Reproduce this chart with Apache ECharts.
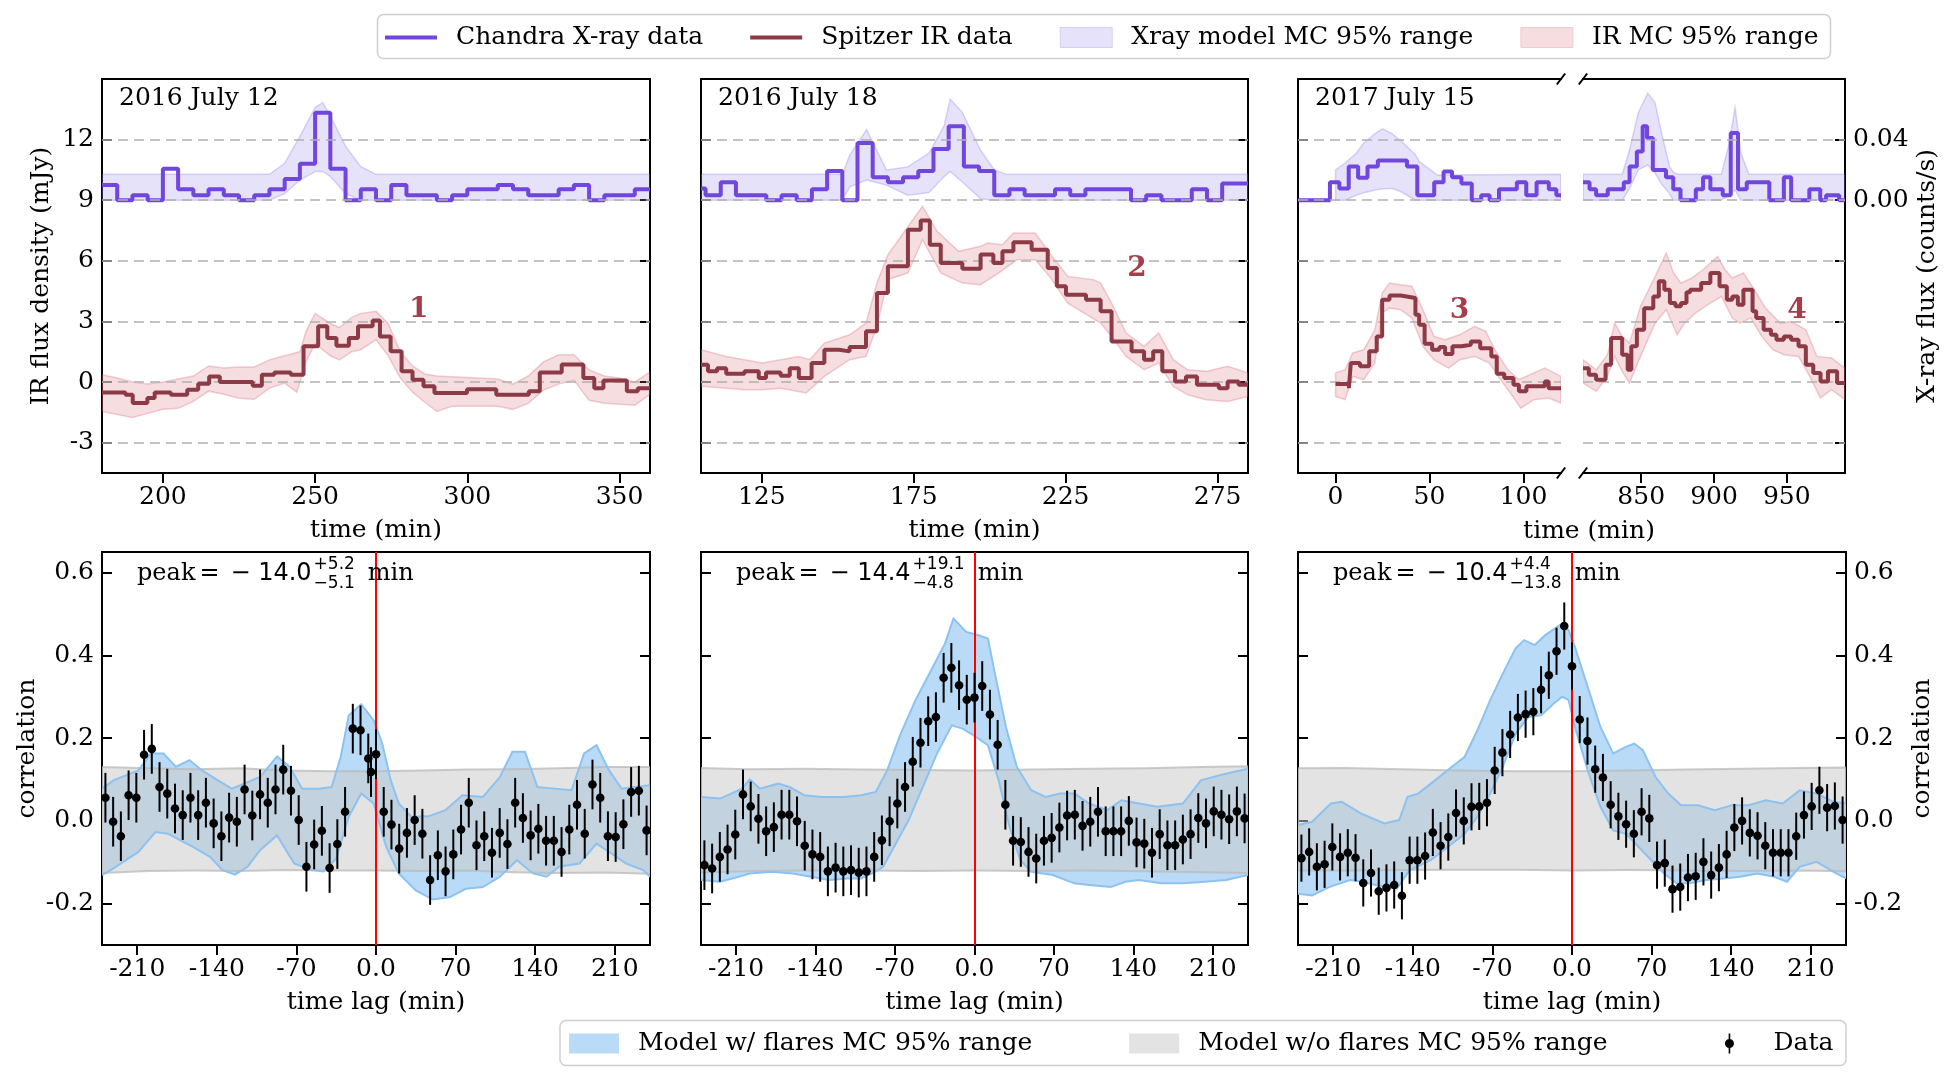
<!DOCTYPE html>
<html><head><meta charset="utf-8">
<script src="https://cdn.jsdelivr.net/npm/echarts@6/dist/echarts.min.js"></script>
<style>html,body{margin:0;padding:0;background:#fff}#c{width:1958px;height:1082px}</style>
</head><body><div id="c"></div>
<script>
// ---------------- DATA ----------------
const PANEL_TITLES = ['2016 July 12', '2016 July 18', '2017 July 15'];
const IR_TICKS = [-3, 0, 3, 6, 9, 12];
const XRAY_LABEL_TICKS = [0, 0.04];
const CORR_TICKS = [-0.2, 0, 0.2, 0.4, 0.6];
const LAG_TICKS = [-210, -140, -70, 0, 70, 140, 210];
const TIME_TICKS = [[200, 250, 300, 350], [125, 175, 225, 275], [0, 50, 100], [850, 900, 950]];
const TIME_RANGES = [[180, 360], [105, 285], [-20, 120], [810, 990]];
const IR_RANGE = [-4.5, 15];
const CORR_RANGE = [-0.3, 0.65];
const LAG_RANGE = [-241, 241];

// X-ray light curves [time (min), counts/s] (bin start)
const XRAY_P1 = [[180,0.010],[185,0],[190,0.0033],[195,0],[200,0.0207],[205,0.0073],[210,0.0033],[215,0.0073],[220,0.0033],[225,0],[230,0.0033],[235,0.0073],[240,0.014],[245,0.024],[250,0.0578],[255,0.0207],[260,0],[265,0.0073],[270,0],[275,0.010],[280,0.0033],[290,0],[295,0.0033],[300,0.0073],[310,0.010],[315,0.0073],[320,0.0033],[330,0.0073],[335,0.010],[340,0],[345,0.0033],[355,0.0073],[360,0.0073]];
const XRAY_P2 = [[105,0.0078],[106.5,0.0033],[111.5,0.0118],[116.5,0.0033],[126.5,0],[131.5,0.0033],[136.5,0],[141.5,0.0073],[146.5,0.0193],[151.5,0],[156.5,0.0378],[161.5,0.0151],[166.5,0.0118],[171.5,0.0151],[176.5,0.0193],[181.5,0.0338],[186.5,0.0489],[191.5,0.0222],[196.5,0.0193],[201.5,0.0033],[206.5,0.0073],[211.5,0.0033],[221.5,0.0073],[226.5,0.0033],[231.5,0.0073],[246.5,0],[251.5,0.0033],[256.5,0],[266.5,0.0073],[271.5,0],[276.5,0.0111],[285,0.0111]];
const XRAY_P3A = [[-20,0],[-3,0.0118],[2,0.0078],[7,0.0222],[12,0.0149],[17,0.0222],[22.5,0.0262],[38,0.0222],[43.5,0.0033],[52.5,0.0118],[57.5,0.0189],[62,0.0151],[67,0.0111],[72.5,0],[77.5,0.0033],[82,0],[87,0.0073],[96.5,0.0118],[101.5,0.0033],[107,0.0118],[113.5,0.0073],[117.5,0.0033],[120,0.0033]];
const XRAY_P3B = [[810,0.0118],[814.5,0.0073],[819,0.0033],[827,0.0073],[838,0.0118],[842,0.0222],[847,0.0322],[851,0.0489],[854,0.0411],[858,0.02],[867,0.0151],[872,0.0073],[877,0],[887.5,0.0073],[892.5,0.0151],[897.5,0.0073],[906,0.0033],[911.5,0.0444],[916.5,0.0073],[922.5,0.0118],[938,0],[948,0.0151],[953,0],[965.5,0.0073],[973,0],[977,0.0033],[986,0],[990,0]];

// X-ray model MC 95% range [time, low, high]
const XBAND_P1 = [[180,0,0.0171],[235,0,0.0171],[240,0.0044,0.0244],[245,0.0133,0.0422],[250,0.0189,0.0611],[252.5,0.019,0.0644],[255,0.0156,0.0556],[260,0.0044,0.0356],[265,0,0.0222],[270,0,0.0171],[360,0,0.0171]];
const XBAND_P2 = [[105,0,0.0171],[151.5,0,0.0171],[154,0.0089,0.03],[159.5,0.0133,0.0467],[166,0.01,0.02],[173,0.0033,0.022],[180,0.005,0.031],[185,0.0156,0.049],[187,0.019,0.0667],[191,0.012,0.058],[197,0.001,0.033],[201.5,0,0.02],[205.5,0,0.0171],[285,0,0.0171]];
const XBAND_P3A = [[0,0,0.02],[5,0,0.0244],[11,0.0033,0.031],[15,0.005,0.0378],[21,0.0067,0.044],[25,0.0075,0.0471],[30,0.0078,0.044],[35,0.0056,0.0389],[42.5,0,0.03],[44.5,0,0.0256],[54,0,0.0167],[120,0,0.0171]];
const XBAND_P3B = [[810,0,0.0171],[837,0,0.0171],[842,0.0078,0.0333],[848,0.02,0.0578],[854.5,0.0233,0.0707],[859.5,0.0178,0.0644],[864.5,0.01,0.0422],[869.5,0.0044,0.0222],[872,0,0.0185],[875,0,0.0171],[905,0,0.0171],[910,0.003,0.0356],[914.5,0.0067,0.0611],[918.5,0,0.0311],[924,0,0.0171],[990,0,0.0171]];

// IR light curves [time, mJy] (bin start)
const IR_P1 = [[180,-0.51],[187.7,-0.63],[190.1,-1.04],[194.9,-0.79],[197.3,-0.51],[202.6,-0.63],[208,-0.38],[211.6,-0.08],[215.2,0.28],[218.7,0],[229.5,-0.18],[232.5,0.36],[236.6,0.48],[242,0.36],[246.2,1.77],[251,2.76],[254,2.18],[257,1.8],[261.1,2.18],[264.1,2.76],[268.9,3.05],[271.3,2.26],[274.8,1.52],[278.4,0.53],[282,0.12],[285.6,-0.21],[289.2,-0.54],[299.9,-0.35],[309.5,-0.63],[320.2,-0.46],[323.8,0.48],[331,0.87],[338.1,0.2],[341.7,-0.3],[344.7,0.08],[352.4,-0.46],[356,-0.3],[360,-0.3]];
const IR_P2 = [[105,0.86],[107.3,0.53],[110.3,0.69],[113.3,0.41],[119.3,0.53],[124,0.2],[126.4,0.48],[131.2,0.31],[134.2,0.69],[137.2,0.2],[141.4,0.94],[145.6,1.6],[150.4,1.52],[153.9,1.73],[159.3,2.51],[162.9,4.41],[166.5,5.73],[173.1,7.54],[177.3,8.0],[180.3,6.8],[183.9,5.89],[191,5.61],[197,6.31],[201.2,5.89],[204.2,6.47],[207.8,6.92],[213.8,6.55],[219.1,5.65],[222.1,4.74],[225.1,4.32],[231.7,4.08],[236.5,3.5],[240.1,2.01],[246.7,1.52],[250.8,1.1],[253.8,1.52],[256.8,0.53],[261,0.03],[264.6,0.28],[268.2,-0.13],[275.4,-0.3],[278.3,0.03],[281.9,-0.13],[285,-0.13]];
const IR_P3A = [[0,-0.1],[7.1,-0.3],[8.1,0.94],[13,0.78],[17.9,1.52],[21.9,2.26],[24.8,4.08],[28.7,4.28],[34.6,4.22],[38.6,4.16],[42.5,3.33],[44.5,2.84],[47.4,1.9],[51.4,1.6],[55.3,1.73],[58.3,1.39],[62.2,1.77],[67.1,1.85],[72,2.01],[77,1.68],[82.9,1.27],[85.8,0.41],[89.8,0.2],[94.7,-0.13],[97.6,-0.46],[101.6,-0.21],[111.4,0.03],[113.4,-0.3],[120,-0.3]];
const IR_P3B = [[810,0.69],[814,0.36],[819,0.12],[825.5,0.86],[829.3,2.18],[836.9,1.35],[840.7,0.61],[843.2,1.77],[847,2.59],[852,3.66],[858.3,4.24],[862.1,4.99],[865.9,4.57],[869.7,3.91],[873.5,3.75],[877.3,3.91],[881.1,4.44],[883.6,4.57],[891.2,4.9],[897.5,5.4],[903.8,4.74],[908.8,4.08],[912.6,4.24],[916.4,3.83],[920.2,4.57],[926.5,3.5],[929,3.17],[934.1,2.59],[939.1,2.34],[942.9,2.1],[948,2.26],[953,2.1],[958.1,1.77],[963.1,0.86],[968.2,0.45],[973.2,0.03],[978.3,0.53],[984.6,-0.05],[990,-0.05]];

// IR MC 95% range (upper / lower edges)
const IRBAND_P1_HI = [[180,0.36],[185,0.2],[190,0.0],[195,-0.1],[200,0.0],[205,0.15],[210,0.3],[215,0.8],[220,0.7],[225,0.75],[230,0.75],[235,1.1],[240,1.3],[245,1.5],[247,2.5],[250,3.4],[255,2.9],[258,2.7],[262,3.2],[265,3.4],[270,3.5],[274,2.9],[278,1.5],[282,0.8],[286,0.4],[290,0.3],[310,0.15],[315,-0.1],[320,0.3],[325,1.0],[330,1.35],[335,1.35],[340,0.6],[345,0.3],[350,0.2],[355,0.0],[360,0.5]];
const IRBAND_P1_LO = [[180,-1.45],[185,-1.6],[190,-1.75],[195,-1.55],[200,-1.35],[205,-1.3],[210,-0.95],[215,-0.45],[220,-0.6],[225,-0.8],[230,-0.85],[235,-0.3],[240,-0.05],[244,-0.5],[247,1.0],[250,1.9],[255,1.3],[258,1.1],[262,1.5],[265,1.6],[270,2.1],[274,1.3],[278,0.2],[282,-0.5],[286,-1.0],[290,-1.45],[295,-1.2],[310,-1.2],[315,-1.35],[320,-1.05],[325,-0.4],[330,-0.1],[335,0.1],[340,-0.9],[345,-1.05],[350,-1.1],[355,-1.15],[360,-0.6]];
const IRBAND_P2_HI = [[105,1.6],[113.3,1.27],[119.3,1.11],[125.2,0.94],[131.2,1.11],[137.2,1.27],[140.8,1.11],[145.6,1.93],[153.9,2.34],[159.3,2.92],[162.9,4.9],[166.5,6.3],[173.1,7.7],[177.9,8.7],[182.7,7.46],[189.8,6.47],[197,6.72],[199.4,6.88],[204.2,6.8],[207.8,7.38],[215,7.38],[219.7,6.39],[225.7,5.23],[234.1,5.07],[236.5,4.9],[240.1,3.91],[244.9,2.43],[250.8,1.77],[255.6,2.43],[260.4,1.11],[265.2,0.61],[271.2,0.53],[278.3,0.78],[285,0.45]];
const IRBAND_P2_LO = [[105,-0.21],[113.3,-0.3],[119.3,-0.38],[125.2,-0.38],[131.2,-0.3],[139.6,-0.54],[145.6,0.28],[153.9,1.11],[159.3,1.27],[162.9,2.76],[166.5,5.07],[173.1,5.4],[177.9,7.05],[183.9,5.4],[191,4.9],[197,4.82],[203,5.4],[209,6.06],[215,6.06],[219.7,5.23],[225.7,3.91],[236.5,2.92],[240.1,2.26],[244.9,1.27],[250.8,0.61],[255.6,0.94],[260.4,-0.21],[265.2,-0.63],[271.2,-0.87],[278.3,-0.96],[285,-0.71]];
const IRBAND_P3A_HI = [[0,0.45],[5.1,0.61],[9.1,1.44],[15,1.6],[20.9,2.59],[24.8,4.41],[28.7,4.9],[34.6,4.82],[40.6,4.74],[46.5,3.58],[52.4,2.26],[58.3,2.1],[66.1,2.34],[74,2.76],[79.9,2.51],[85.8,1.44],[91.7,0.61],[97.6,0.12],[105.5,0.45],[111.4,0.69],[120,0.28]];
const IRBAND_P3A_LO = [[0,-0.71],[5.1,-0.87],[9.1,0.28],[15,0.12],[20.9,0.94],[24.8,3.42],[28.7,3.66],[34.6,3.58],[40.6,3.17],[46.5,1.77],[52.4,1.1],[60.2,0.69],[66.1,1.11],[74,1.27],[81.9,0.94],[87.8,0.12],[93.7,-0.63],[98.6,-1.29],[105.5,-0.87],[113.4,-0.79],[120,-1.04]];
const IRBAND_P3B_HI = [[810,1.1],[819.2,0.61],[826.8,1.35],[831.8,2.92],[836.9,2.26],[841.9,1.93],[849.5,3.75],[859.6,5.23],[867.2,6.39],[872.2,5.4],[877.3,4.9],[884.8,5.15],[892.4,5.56],[902.5,6.22],[907.6,5.56],[912.6,5.15],[920.2,5.4],[927.8,4.57],[935.4,3.66],[945.5,2.92],[953,3.0],[963.1,2.59],[970.7,1.27],[980.8,1.19],[990,0.69]];
const IRBAND_P3B_LO = [[810,-0.05],[819.2,-0.46],[826.8,0.28],[831.8,1.27],[836.9,0.53],[841.9,-0.05],[849.5,1.27],[859.6,2.92],[867.2,3.58],[874.7,2.34],[879.8,2.92],[887.4,3.42],[897.5,3.91],[905.1,4.24],[912.6,3.17],[917.7,2.92],[925.3,3.17],[932.8,2.26],[940.4,1.6],[948,1.35],[958.1,1.27],[965.7,0.28],[973.2,-0.79],[980.8,-0.38],[990,-0.87]];

// Flare labels [panel, time, mJy, text]
const FLARES = [[0,284,3.6,'1'],[1,248.5,5.6,'2'],[2,66,3.55,'3'],[3,957,3.55,'4']];

// Cross-correlation
const LAGS = [-238,-231.2,-224.4,-217.6,-210.8,-204,-197.2,-190.4,-183.6,-176.8,-170,-163.2,-156.4,-149.6,-142.8,-136,-129.2,-122.4,-115.6,-108.8,-102,-95.2,-88.4,-81.6,-74.8,-68,-61.2,-54.4,-47.6,-40.8,-34,-27.2,-20.4,-13.6,-6.8,0,6.8,13.6,20.4,27.2,34,40.8,47.6,54.4,61.2,68,74.8,81.6,88.4,95.2,102,108.8,115.6,122.4,129.2,136,142.8,149.6,156.4,163.2,170,176.8,183.6,190.4,197.2,204,210.8,217.6,224.4,231.2,238];
const CORR_P1 = [0.056,-0.002,-0.037,0.062,0.056,0.160,0.174,0.082,0.066,0.030,0.014,0.056,0.014,0.044,-0.006,-0.037,0.008,-0.002,0.076,0.013,0.064,0.044,0.076,0.124,0.073,0.002,-0.111,-0.057,-0.024,-0.114,-0.056,0.022,0.223,0.219,0.151,0.161,0.022,-0.009,-0.067,-0.029,0.002,-0.031,-0.143,-0.083,-0.122,-0.081,-0.021,0.044,-0.059,-0.037,-0.077,-0.029,-0.056,0.044,0.007,-0.035,-0.019,-0.048,-0.048,-0.075,-0.021,0.039,-0.031,0.088,0.056,-0.037,-0.039,-0.008,0.070,0.073,-0.023];
const CORR_P1_EXTRA = [[-4.4, 0.118]];
const CORR_P2 = [-0.107,-0.115,-0.087,-0.069,-0.033,0.064,0.035,0.005,-0.025,-0.015,0.015,0.015,-0.001,-0.060,-0.081,-0.087,-0.122,-0.113,-0.122,-0.119,-0.125,-0.122,-0.087,-0.047,-0.001,0.042,0.082,0.143,0.189,0.241,0.251,0.346,0.370,0.328,0.293,0.298,0.326,0.257,0.184,0.039,-0.048,-0.051,-0.075,-0.091,-0.048,-0.041,-0.016,0.013,0.015,-0.012,-0.002,0.022,-0.025,-0.025,-0.025,0.000,-0.052,-0.055,-0.077,-0.032,-0.059,-0.059,-0.045,-0.032,0.007,-0.006,0.023,0.015,0.004,0.023,0.006];
const CORR_P3 = [-0.09,-0.075,-0.111,-0.105,-0.063,-0.087,-0.077,-0.089,-0.150,-0.126,-0.170,-0.162,-0.155,-0.181,-0.095,-0.095,-0.085,-0.028,-0.060,-0.039,0.019,0.000,0.034,0.035,0.044,0.122,0.165,0.209,0.250,0.258,0.264,0.317,0.352,0.410,0.471,0.374,0.245,0.193,0.125,0.105,0.039,0.011,-0.008,-0.031,0.022,0.006,-0.107,-0.102,-0.165,-0.160,-0.137,-0.134,-0.099,-0.131,-0.113,-0.081,-0.016,0.000,-0.029,-0.036,-0.060,-0.077,-0.077,-0.077,-0.037,0.014,0.035,0.074,0.032,0.036,0.002];
const CORR_ERR = [0.06, 0.06, 0.057];
const PEAKS = [{val:-14.0, sup:'+5.2', sub:'\u22125.1'}, {val:-14.4, sup:'+19.1', sub:'\u22124.8'}, {val:-10.4, sup:'+4.4', sub:'\u221213.8'}];

// Model w/ flares MC 95% range
const BLUE_P1_HI = [[-241,0.078],[-231,0.098],[-220,0.11],[-209,0.122],[-198,0.163],[-187,0.163],[-176,0.131],[-164,0.147],[-153,0.122],[-139,0.098],[-127,0.078],[-116,0.09],[-102,0.106],[-87,0.156],[-76,0.131],[-65,0.078],[-50,0.078],[-39,0.082],[-31,0.155],[-24,0.255],[-13,0.282],[-2,0.243],[5.5,0.187],[13,0.098],[20,0.042],[31,0.01],[46,0.011],[61,0.026],[76,0.062],[94,0.058],[109,0.106],[120,0.167],[131,0.167],[142,0.082],[157,0.078],[172,0.074],[183,0.163],[194,0.183],[205,0.122],[216,0.078],[227,0.082],[241,0.086]];
const BLUE_P1_LO = [[-241,-0.131],[-231,-0.115],[-220,-0.095],[-209,-0.075],[-194,-0.027],[-183,-0.031],[-172,-0.047],[-161,-0.063],[-146,-0.087],[-135,-0.119],[-124,-0.13],[-113,-0.111],[-102,-0.071],[-87,-0.035],[-72,-0.103],[-57,-0.119],[-46,-0.122],[-35,-0.091],[-24,0.01],[-13,0.066],[-2,0.042],[9,-0.063],[20,-0.127],[35,-0.168],[50,-0.19],[65,-0.184],[79,-0.164],[94,-0.16],[109,-0.135],[124,-0.095],[138,-0.127],[150,-0.135],[161,-0.111],[179,-0.103],[194,-0.055],[205,-0.075],[220,-0.103],[235,-0.119],[241,-0.135]];
const BLUE_P2_HI = [[-241,0.058],[-224,0.054],[-205,0.078],[-198,0.1],[-189,0.078],[-173,0.09],[-163,0.082],[-150,0.062],[-135,0.058],[-115,0.058],[-100,0.062],[-87,0.07],[-77,0.122],[-65,0.211],[-52,0.292],[-39,0.36],[-26,0.429],[-18.5,0.489],[-7.3,0.457],[2.2,0.45],[11.8,0.441],[18,0.356],[27.7,0.227],[37.2,0.131],[50,0.074],[62.7,0.058],[75.4,0.066],[88,0.066],[101,0.042],[117,0.026],[129.5,0.05],[145,0.042],[161,0.034],[183.6,0.042],[199.5,0.098],[215.4,0.11],[228,0.118],[241,0.126]];
const BLUE_P2_LO = [[-241,-0.143],[-224,-0.147],[-208,-0.135],[-198,-0.127],[-179,-0.123],[-160,-0.127],[-144,-0.135],[-128,-0.143],[-112,-0.139],[-100,-0.139],[-90,-0.127],[-80.5,-0.111],[-71,-0.063],[-58,0.002],[-45.5,0.082],[-33,0.163],[-20,0.231],[-10.5,0.223],[-1,0.207],[11.8,0.183],[21.3,0.098],[30.9,-0.015],[40.4,-0.095],[50,-0.123],[69,-0.131],[88,-0.151],[101,-0.155],[120,-0.16],[133,-0.147],[145,-0.143],[164.5,-0.151],[183.6,-0.151],[202.7,-0.147],[221.8,-0.143],[241,-0.131]];
const BLUE_P3_HI = [[-241,-0.01],[-228.6,-0.002],[-212,0.042],[-202.5,0.046],[-185.8,0.018],[-165,-0.006],[-152,0.002],[-144.7,0.058],[-135.4,0.066],[-120.5,0.098],[-105.6,0.131],[-94.4,0.155],[-83.2,0.219],[-72,0.292],[-60.8,0.356],[-49.6,0.417],[-42.1,0.437],[-32.8,0.425],[-23.5,0.449],[-8.6,0.477],[-3,0.461],[2.6,0.42],[13.8,0.324],[25,0.227],[36.2,0.163],[47.4,0.179],[54.8,0.187],[62.3,0.171],[73.5,0.106],[84.7,0.066],[95.9,0.038],[110.8,0.038],[125.7,0.026],[140.6,0.038],[155.5,0.038],[170.5,0.05],[185.4,0.042],[200.3,0.074],[215.2,0.066],[230.1,0.046],[241,0.042]];
const BLUE_P3_LO = [[-241,-0.176],[-228.6,-0.18],[-213.7,-0.16],[-195.1,-0.143],[-183.9,-0.147],[-172.7,-0.155],[-154,-0.164],[-142.9,-0.119],[-124.2,-0.095],[-109.3,-0.063],[-94.4,-0.031],[-83.2,0.01],[-72,0.066],[-60.8,0.131],[-49.6,0.211],[-38.4,0.251],[-27.2,0.255],[-16,0.284],[-8.6,0.3],[-3,0.292],[2.6,0.227],[13.8,0.122],[25,0.034],[36.2,-0.023],[47.4,-0.031],[58.6,-0.063],[69.8,-0.095],[80.9,-0.127],[92.1,-0.151],[103.3,-0.151],[118.2,-0.143],[133.2,-0.139],[148.1,-0.135],[163,-0.127],[177.9,-0.135],[189.1,-0.147],[200.3,-0.111],[215.2,-0.099],[230.1,-0.123],[241,-0.139]];

// Model w/o flares MC 95% range
const GRAY_P1_HI = [[-241,0.13],[-200,0.127],[-160,0.125],[-120,0.127],[-80,0.122],[-40,0.12],[0,0.12],[40,0.122],[80,0.124],[120,0.125],[160,0.127],[200,0.13],[241,0.13]];
const GRAY_P1_LO = [[-241,-0.126],[-200,-0.121],[-160,-0.12],[-120,-0.121],[-80,-0.119],[-40,-0.12],[0,-0.12],[40,-0.121],[80,-0.12],[120,-0.124],[160,-0.126],[200,-0.125],[241,-0.128]];
const GRAY_P2_HI = [[-241,0.128],[-200,0.125],[-150,0.126],[-100,0.124],[-50,0.123],[0,0.122],[50,0.124],[100,0.126],[150,0.127],[200,0.13],[241,0.132]];
const GRAY_P2_LO = [[-241,-0.125],[-200,-0.122],[-150,-0.12],[-100,-0.12],[-50,-0.121],[0,-0.12],[50,-0.121],[100,-0.12],[150,-0.122],[200,-0.124],[241,-0.126]];
const GRAY_P3_HI = [[-241,0.127],[-200,0.128],[-150,0.125],[-100,0.122],[-50,0.12],[0,0.12],[50,0.122],[100,0.124],[150,0.126],[200,0.128],[241,0.129]];
const GRAY_P3_LO = [[-241,-0.12],[-200,-0.12],[-150,-0.119],[-100,-0.118],[-50,-0.118],[0,-0.12],[50,-0.119],[100,-0.12],[150,-0.121],[200,-0.12],[241,-0.122]];

// ---------------- STYLE / LAYOUT ----------------
const FONT = 'DejaVu Serif', SANS = 'DejaVu Sans';
const FS = 25;
const XC = '#7046df', IRC = '#8c3a46', FLC = '#a53d4a';
const G = [
  {left:102, top:79, width:548, height:394},
  {left:701, top:79, width:547, height:394},
  {left:1298, top:79, width:263, height:394},
  {left:1583, top:79, width:262, height:394},
  {left:102, top:552, width:548, height:393},
  {left:701, top:552, width:547, height:393},
  {left:1298, top:552, width:548, height:393}
];
const XR_ZERO = 9, XR_SCALE = 75; // IR-axis units per counts/s (0.04 c/s <-> 3 mJy)
const XR_RANGE = [(IR_RANGE[0] - XR_ZERO) / XR_SCALE, (IR_RANGE[1] - XR_ZERO) / XR_SCALE];
const XR_MIRROR_TICKS = IR_TICKS.map(v => (v - XR_ZERO) / XR_SCALE);

const lbl = {color:'#000', fontFamily:FONT, fontSize:FS};
const tickLS = {color:'#000', width:2};

const grid = G.map((g, i) => ({
  left:g.left, top:g.top, width:g.width, height:g.height,
  show: !(i === 2 || i === 3), borderColor:'#000', borderWidth:2,
  backgroundColor:'transparent', containLabel:false, outerBoundsMode:'none'
}));

function xAx(gi, range, ticks, o) {
  o = o || {};
  return {
    type:'value', gridIndex:gi, min:range[0], max:range[1], position:o.top ? 'top' : 'bottom',
    name:o.name || '', nameLocation:'middle', nameGap:45, nameTextStyle:lbl, nameMoveOverlap:false,
    axisLine:{show:!!o.line, onZero:false, lineStyle:{color:'#000', width:2}},
    axisTick:{show:!o.top, inside:false, length:10, lineStyle:tickLS, customValues:ticks},
    axisLabel:{show:!o.top, margin:12, color:'#000', fontFamily:FONT, fontSize:FS, customValues:ticks,
      formatter:o.fmt || (v => String(v))},
    splitLine:{show:false}
  };
}
function yAx(gi, pos, range, ticks, labels, o) {
  o = o || {};
  return {
    type:'value', gridIndex:gi, position:pos, min:range[0], max:range[1], show:o.show !== false,
    name:o.name || '', nameLocation:'middle', nameGap:o.nameGap || 0, nameRotate:90,
    nameTextStyle:lbl, nameMoveOverlap:false,
    axisLine:{show:!!o.line, onZero:false, lineStyle:{color:'#000', width:2}},
    axisTick:{show:true, inside:true, length:10, lineStyle:tickLS, customValues:ticks},
    axisLabel:{show:!!labels, margin:8, color:'#000', fontFamily:FONT, fontSize:FS,
      customValues:labels || ticks, formatter:o.fmt || (v => String(v))},
    splitLine:{show:false}
  };
}
const lagFmt = v => (v === 0 ? '0.0' : String(v));
const corrFmt = v => v.toFixed(1);

const xAxis = [
  xAx(0, TIME_RANGES[0], TIME_TICKS[0], {name:'time (min)'}),
  xAx(1, TIME_RANGES[1], TIME_TICKS[1], {name:'time (min)'}),
  xAx(2, TIME_RANGES[2], TIME_TICKS[2], {line:true}),
  xAx(3, TIME_RANGES[3], TIME_TICKS[3], {line:true}),
  xAx(2, TIME_RANGES[2], [], {line:true, top:true}),
  xAx(3, TIME_RANGES[3], [], {line:true, top:true}),
  xAx(4, LAG_RANGE, LAG_TICKS, {name:'time lag (min)', fmt:lagFmt}),
  xAx(5, LAG_RANGE, LAG_TICKS, {name:'time lag (min)', fmt:lagFmt}),
  xAx(6, LAG_RANGE, LAG_TICKS, {name:'time lag (min)', fmt:lagFmt})
];
const yAxis = [
  yAx(0, 'left', IR_RANGE, IR_TICKS, IR_TICKS, {name:'IR flux density (mJy)', nameGap:48}),   // 0
  yAx(1, 'left', IR_RANGE, IR_TICKS, null),                                                 // 1
  yAx(2, 'left', IR_RANGE, IR_TICKS, null, {line:true}),                                    // 2
  yAx(0, 'right', XR_RANGE, XR_MIRROR_TICKS, null),                                         // 3
  yAx(1, 'right', XR_RANGE, XR_MIRROR_TICKS, null),                                         // 4
  yAx(3, 'right', XR_RANGE, XR_MIRROR_TICKS, XRAY_LABEL_TICKS,
      {line:true, name:'X-ray flux (counts/s)', nameGap:70, fmt:v => v.toFixed(2)}),          // 5
  yAx(3, 'left', IR_RANGE, IR_TICKS, null, {show:false}),                                   // 6
  yAx(2, 'right', XR_RANGE, XR_MIRROR_TICKS, null, {show:false}),                           // 7
  yAx(4, 'left', CORR_RANGE, CORR_TICKS, CORR_TICKS, {name:'correlation', nameGap:62, fmt:corrFmt}), // 8
  yAx(4, 'right', CORR_RANGE, CORR_TICKS, null),                                            // 9
  yAx(5, 'left', CORR_RANGE, CORR_TICKS, null),                                             // 10
  yAx(5, 'right', CORR_RANGE, CORR_TICKS, null),                                            // 11
  yAx(6, 'left', CORR_RANGE, CORR_TICKS, null),                                             // 12
  yAx(6, 'right', CORR_RANGE, CORR_TICKS, CORR_TICKS, {name:'correlation', nameGap:64, fmt:corrFmt}) // 13
];

// ---------------- SERIES BUILDERS ----------------
function band(name, xi, yi, hi, lo, style, z, legendColor) {
  return {
    type:'custom', name:name, xAxisIndex:xi, yAxisIndex:yi, z:z, silent:true, clip:true,
    itemStyle:{color:legendColor}, data:hi,
    renderItem:function (params, api) {
      if (params.dataIndex !== 0) return null;
      const pts = hi.map(p => api.coord(p)).concat(lo.slice().reverse().map(p => api.coord(p)));
      return {type:'polygon', shape:{points:pts}, style:style};
    }
  };
}
function edges(xi, yi, lines, stroke, lw, z) {
  return {
    type:'custom', xAxisIndex:xi, yAxisIndex:yi, z:z, silent:true, clip:true, data:[lines[0][0]],
    renderItem:function (params, api) {
      return {type:'group', children:lines.map(l => ({
        type:'polyline', shape:{points:l.map(p => api.coord(p))},
        style:{stroke:stroke, lineWidth:lw, fill:null}
      }))};
    }
  };
}
function stepLine(name, xi, yi, data, color, z) {
  return {
    type:'line', name:name, xAxisIndex:xi, yAxisIndex:yi, data:data, step:'end',
    showSymbol:false, symbol:'none', z:z, silent:true,
    lineStyle:{color:color, width:4}, itemStyle:{color:color}
  };
}
function errorBars(name, xi, yi, data, z) {
  return {
    type:'custom', name:name, xAxisIndex:xi, yAxisIndex:yi, z:z, silent:true, clip:true,
    itemStyle:{color:'#000'}, data:data,
    renderItem:function (params, api) {
      const x = api.value(0), y = api.value(1), e = api.value(2);
      const p = api.coord([x, y]), a = api.coord([x, y + e]), b = api.coord([x, y - e]);
      return {type:'group', children:[
        {type:'line', shape:{x1:p[0], y1:a[1], x2:p[0], y2:b[1]}, style:{stroke:'#000', lineWidth:2}},
        {type:'circle', shape:{cx:p[0], cy:p[1], r:4.3}, style:{fill:'#000'}}
      ]};
    }
  };
}

const gridLines = {
  silent:true, symbol:['none','none'], label:{show:false},
  lineStyle:{color:'#b0b0b0', width:1.5, type:[10,6]},
  data:IR_TICKS.map(v => ({yAxis:v}))
};

const TOP = [
  {xi:0, yIR:0, yX:3, xr:XRAY_P1, xb:XBAND_P1, ir:IR_P1, hi:IRBAND_P1_HI, lo:IRBAND_P1_LO},
  {xi:1, yIR:1, yX:4, xr:XRAY_P2, xb:XBAND_P2, ir:IR_P2, hi:IRBAND_P2_HI, lo:IRBAND_P2_LO},
  {xi:2, yIR:2, yX:7, xr:XRAY_P3A, xb:XBAND_P3A, ir:IR_P3A, hi:IRBAND_P3A_HI, lo:IRBAND_P3A_LO},
  {xi:3, yIR:6, yX:5, xr:XRAY_P3B, xb:XBAND_P3B, ir:IR_P3B, hi:IRBAND_P3B_HI, lo:IRBAND_P3B_LO}
];
const series = [];
TOP.forEach((c, i) => {
  series.push(band('Xray model MC 95% range', c.xi, c.yX,
    c.xb.map(r => [r[0], r[2]]), c.xb.map(r => [r[0], r[1]]),
    {fill:'rgba(130,110,230,0.2)', stroke:'rgba(130,110,230,0.28)', lineWidth:1.5}, 1, '#e6e2fa'));
  const irb = band('IR MC 95% range', c.xi, c.yIR, c.hi, c.lo,
    {fill:'rgba(215,100,115,0.22)', stroke:'rgba(215,100,115,0.3)', lineWidth:1.5}, 1, '#f6dde0');
  irb.markLine = gridLines;
  series.push(irb);
  series.push(stepLine('Chandra X-ray data', c.xi, c.yX, c.xr, XC, 4));
  const irl = stepLine('Spitzer IR data', c.xi, c.yIR, c.ir, IRC, 5);
  const fl = FLARES.filter(f => f[0] === i);
  irl.markPoint = {
    silent:true, symbol:'circle', symbolSize:1, itemStyle:{color:'rgba(0,0,0,0)'},
    label:{show:true, position:'inside', color:FLC, fontFamily:FONT, fontSize:28, fontWeight:'bold',
      formatter:p => p.name},
    data:fl.map(f => ({name:f[3], coord:[f[1], f[2]]}))
  };
  series.push(irl);
});

const BOT = [
  {xi:6, yi:8, hi:BLUE_P1_HI, lo:BLUE_P1_LO, ghi:GRAY_P1_HI, glo:GRAY_P1_LO,
   pts:LAGS.map((l, k) => [l, CORR_P1[k], CORR_ERR[0]]).concat(CORR_P1_EXTRA.map(p => [p[0], p[1], CORR_ERR[0]]))},
  {xi:7, yi:10, hi:BLUE_P2_HI, lo:BLUE_P2_LO, ghi:GRAY_P2_HI, glo:GRAY_P2_LO,
   pts:LAGS.map((l, k) => [l, CORR_P2[k], CORR_ERR[1]])},
  {xi:8, yi:12, hi:BLUE_P3_HI, lo:BLUE_P3_LO, ghi:GRAY_P3_HI, glo:GRAY_P3_LO,
   pts:LAGS.map((l, k) => [l, CORR_P3[k], CORR_ERR[2]])}
];
BOT.forEach(c => {
  series.push(band('Model w/ flares MC 95% range', c.xi, c.yi, c.hi, c.lo, {fill:'#b9dbf7', stroke:null}, 1, '#b9dbf7'));
  const g = band('Model w/o flares MC 95% range', c.xi, c.yi, c.ghi, c.glo,
    {fill:'rgba(202,202,202,0.53)', stroke:'rgba(185,185,185,0.75)', lineWidth:2}, 2, '#e3e3e3');
  g.markLine = {silent:true, symbol:['none','none'], label:{show:false},
    lineStyle:{color:'#ff0000', width:2, type:'solid'}, data:[{xAxis:0}]};
  series.push(g);
  series.push(edges(c.xi, c.yi, [c.hi, c.lo], '#8dc2f0', 2, 3));
  series.push(errorBars('Data', c.xi, c.yi, c.pts, 5));
});

// ---------------- GRAPHIC (text annotations, frames, break marks) ----------------
const mctx = document.createElement('canvas').getContext('2d');
function tw(t, size, fam) { mctx.font = size + 'px "' + fam + '"'; return mctx.measureText(t).width; }
function T(x, y, t, size, fam, align) {
  return {type:'text', x:x, y:y, silent:true, z:50,
    style:{text:t, fontSize:size, fontFamily:fam, fill:'#000', align:align || 'left', verticalAlign:'middle'}};
}
const graphic = [];
// legend frames
graphic.push({type:'rect', z:1, silent:true, shape:{x:377.5, y:14.5, width:1453, height:44, r:6},
  style:{fill:'rgba(255,255,255,0.8)', stroke:'#cfcfcf', lineWidth:1.5}});
graphic.push({type:'rect', z:1, silent:true, shape:{x:560, y:1020.5, width:1286, height:45, r:6},
  style:{fill:'rgba(255,255,255,0.8)', stroke:'#cfcfcf', lineWidth:1.5}});
// panel titles
[0, 1, 2].forEach(i => graphic.push(T(G[i].left + 17, G[i].top + 19, PANEL_TITLES[i], FS, FONT)));
// x label for broken panel
graphic.push(T(1589, G[2].top + G[2].height + 58.5, 'time (min)', FS, FONT, 'center'));
// peak annotations
PEAKS.forEach((pk, j) => {
  const g = G[4 + j];
  let x = g.left + 35;
  const y = g.top + 22;
  graphic.push(T(x, y, 'peak', 24, FONT)); x += tw('peak', 24, FONT) + 4;
  graphic.push(T(x, y, '=', 24, SANS)); x += tw('=', 24, SANS) + 11;
  graphic.push(T(x, y, '\u2212', 24, SANS)); x += tw('\u2212', 24, SANS) + 7.5;
  const num = Math.abs(pk.val).toFixed(1);
  graphic.push(T(x, y, num, 24, SANS)); x += tw(num, 24, SANS) + 2;
  graphic.push(T(x, g.top + 13, pk.sup, 17, SANS));
  graphic.push(T(x, g.top + 31.5, pk.sub, 17, SANS));
  x += Math.max(tw(pk.sup, 17, SANS), tw(pk.sub, 17, SANS)) + 13;
  graphic.push(T(x, y, 'min', 24, FONT));
});
// axis break marks
[G[2].left + G[2].width, G[3].left].forEach(bx => {
  [G[2].top, G[2].top + G[2].height].forEach(by => {
    graphic.push({type:'line', z:50, silent:true,
      shape:{x1:bx - 4.2, y1:by + 5.5, x2:bx + 4.2, y2:by - 5.5}, style:{stroke:'#000', lineWidth:2}});
  });
});

// ---------------- LEGENDS ----------------
const LINE_ICON = 'path://M0,0L0,0M0,8L52,8L52,12L0,12ZM52,20L52,20';
const DATA_ICON = 'path://M0,0L0,0M24.2,0L25.8,0L25.8,20L24.2,20ZM20.5,10A4.5,4.5,0,1,1,29.5,10A4.5,4.5,0,1,1,20.5,10ZM50,20L50,20';
const legTxt = {fontFamily:FONT, fontSize:FS, color:'#000', padding:[0,0,0,14]};
const legend = [
  {left:385, top:25, orient:'horizontal', padding:0, itemWidth:52, itemHeight:20, itemGap:47,
   selectedMode:false, textStyle:legTxt,
   data:[
     {name:'Chandra X-ray data', icon:LINE_ICON, itemStyle:{color:XC, borderWidth:0}},
     {name:'Spitzer IR data', icon:LINE_ICON, itemStyle:{color:IRC, borderWidth:0}},
     {name:'Xray model MC 95% range', icon:'rect', itemStyle:{color:'#e6e2fa', borderColor:'#d6cff5', borderWidth:1}},
     {name:'IR MC 95% range', icon:'rect', itemStyle:{color:'#f6dde0', borderColor:'#efcbd0', borderWidth:1}}
   ]},
  {left:569, top:1031, orient:'horizontal', padding:0, itemWidth:50, itemHeight:20, itemGap:97,
   selectedMode:false, textStyle:legTxt,
   data:[
     {name:'Model w/ flares MC 95% range', icon:'rect', itemStyle:{color:'#b9dbf7', borderWidth:0}},
     {name:'Model w/o flares MC 95% range', icon:'rect', itemStyle:{color:'#e3e3e3', borderWidth:0}},
     {name:'Data', icon:DATA_ICON, itemStyle:{color:'#000', borderWidth:0}}
   ]}
];

const chart = echarts.init(document.getElementById('c'), null, {renderer:'canvas', width:1958, height:1082, devicePixelRatio:1});
chart.setOption({
  animation:false,
  backgroundColor:'#ffffff',
  textStyle:{fontFamily:FONT},
  grid:grid, xAxis:xAxis, yAxis:yAxis, series:series, legend:legend, graphic:graphic
});
</script></body></html>
